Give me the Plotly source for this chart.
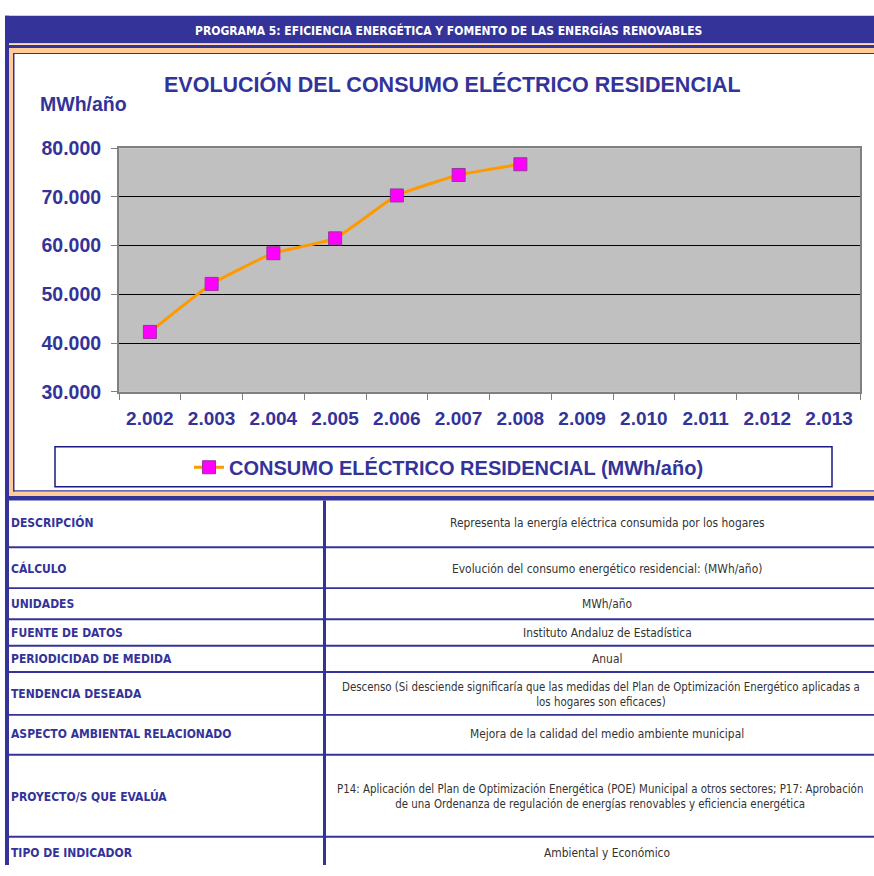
import plotly.graph_objects as go

# ---------------- data ----------------
years = ["2.002", "2.003", "2.004", "2.005", "2.006", "2.007",
         "2.008", "2.009", "2.010", "2.011", "2.012", "2.013"]
consumo = [42300, 52150, 58450, 61500, 70300, 74500, 76700]
y_ticks = [30000, 40000, 50000, 60000, 70000, 80000]

series_name = "CONSUMO ELÉCTRICO RESIDENCIAL (MWh/año)"
chart_title = "EVOLUCIÓN DEL CONSUMO ELÉCTRICO RESIDENCIAL"
unit_label = "MWh/año"
header_text = "PROGRAMA 5: EFICIENCIA ENERGÉTICA Y FOMENTO DE LAS ENERGÍAS RENOVABLES"

row_labels = ["DESCRIPCIÓN", "CÁLCULO", "UNIDADES", "FUENTE DE DATOS",
              "PERIODICIDAD DE MEDIDA", "TENDENCIA DESEADA",
              "ASPECTO AMBIENTAL RELACIONADO", "PROYECTO/S QUE EVALÚA",
              "TIPO DE INDICADOR"]
row_values = [
    "Representa la energía eléctrica consumida por los hogares",
    "Evolución del consumo energético residencial: (MWh/año)",
    "MWh/año",
    "Instituto Andaluz de Estadística",
    "Anual",
    "Descenso (Si desciende significaría que las medidas del Plan de Optimización Energético aplicadas a<br>los hogares son eficaces)",
    "Mejora de la calidad del medio ambiente municipal",
    "P14: Aplicación del Plan de Optimización Energética (POE) Municipal a otros sectores; P17: Aprobación<br>de una Ordenanza de regulación de energías renovables y eficiencia energética",
    "Ambiental y Económico",
]

# ---------------- layout helpers (pixels -> paper) ----------------
W, H = 874, 876
def PX(x):
    return x / W
def PY(y):
    return 1 - y / H

BLUE = "#333399"
PEACH = "#FFCC99"
ARIAL = "Liberation Sans, Arial, sans-serif"
NARROW = "DejaVu Sans Condensed, Liberation Sans Narrow, sans-serif"

row_bounds = [502, 550, 592, 624, 651, 678, 722, 763, 847, 880]
row_centers = [525, 572, 608, 638, 665, 701, 742, 806, 864]
value_x = [607, 607, 607, 607, 607, 601, 607, 600, 607]
value_size = [11.9, 11.9, 11.9, 11.9, 11.9, 11.4, 11.9, 11.4, 11.9]

fig = go.Figure()
fig.add_trace(go.Scatter(
    x=years[:len(consumo)], y=consumo, name=series_name,
    mode="lines+markers",
    line=dict(color="#FF9900", width=3, shape="spline", smoothing=0.4),
    marker=dict(symbol="square", size=13, color="#FF00FF",
                line=dict(color="#993399", width=1)),
))

shapes = []
def rect(x0, y0, x1, y1, fill, line_color=None, lw=0):
    shapes.append(dict(type="rect", xref="paper", yref="paper",
                       x0=PX(x0), x1=PX(x1), y0=PY(y1), y1=PY(y0),
                       fillcolor=fill, layer="above",
                       line=dict(color=line_color or fill, width=lw)))

# header bar
rect(5, 5, 874, 33, BLUE)
rect(5, 34, 874, 35, PEACH)
rect(9, 35, 874, 38, BLUE)
# chart frame (peach with thin blue inner line)
rect(9, 38, 874, 43, PEACH)
rect(9, 38, 13, 497, PEACH)
rect(9, 493, 874, 497.5, PEACH)
rect(13, 43, 14.5, 493, BLUE)
rect(13, 43, 874, 44, BLUE)
rect(13, 491.5, 874, 493, BLUE)
# outer blue left border and band under the chart
rect(5, 5, 9, 876, BLUE)
rect(5, 497.5, 874, 502, BLUE)
# legend box
rect(55, 447, 832, 488, "rgba(0,0,0,0)", "#1a1a80", 1.5)
# table grid
rect(323, 502, 326, 876, BLUE)
for yb in row_bounds[1:-1]:
    rect(5, yb - 1, 874, yb + 1, BLUE)

annotations = []
def text(x, y, s, size, color, family, bold=False, xanchor="center"):
    annotations.append(dict(xref="paper", yref="paper", x=PX(x), y=PY(y),
                            text=s, showarrow=False, xanchor=xanchor,
                            yanchor="middle", align="center",
                            font=dict(family=family, size=size, color=color,
                                      weight="bold" if bold else "normal")))

text(448, 20, header_text, 12, "white", NARROW, bold=True)
text(452, 75, chart_title, 21.5, BLUE, ARIAL, bold=True)
text(38, 95, unit_label, 19.5, BLUE, ARIAL, bold=True, xanchor="left")

for lab, val, cy, vx, vs in zip(row_labels, row_values, row_centers,
                                value_x, value_size):
    text(9, cy, lab, 12, BLUE, NARROW, bold=True, xanchor="left")
    text(vx, cy, val, vs, "#333333", NARROW)

fig.update_layout(
    width=W, height=H, margin=dict(l=0, r=0, t=0, b=0, pad=0),
    paper_bgcolor="white", plot_bgcolor="#C0C0C0",
    separators=",.",
    showlegend=True,
    legend=dict(x=PX(189), y=PY(468), xanchor="left", yanchor="middle",
                orientation="h", bgcolor="rgba(0,0,0,0)",
                font=dict(family=ARIAL, size=20, color=BLUE, weight="bold")),
    xaxis=dict(type="category", categoryorder="array", categoryarray=years,
               range=[-0.5, len(years) - 0.5],
               domain=[PX(119), PX(860)], anchor="y",
               tickson="boundaries", ticks="outside", ticklen=6,
               tickcolor="#808080", tickwidth=1,
               showline=True, linecolor="#808080", linewidth=2, mirror=True,
               showgrid=False, ticklabelstandoff=8,
               tickfont=dict(family=ARIAL, size=19, color=BLUE, weight="bold")),
    yaxis=dict(range=[y_ticks[0], y_ticks[-1]], tickvals=y_ticks,
               tickformat=",.0f",
               domain=[PY(390.7), PY(140.7)], anchor="x",
               ticks="outside", ticklen=6, tickcolor="#808080",
               showline=True, linecolor="#808080", linewidth=2, mirror=True,
               showgrid=True, gridcolor="#000000", gridwidth=1,
               zeroline=False, ticklabelstandoff=6,
               tickfont=dict(family=ARIAL, size=19.5, color=BLUE, weight="bold")),
    shapes=shapes, annotations=annotations,
)

fig.write_html(
    "out.html",
    config={"displayModeBar": False},
    post_script=(
        "document.documentElement.style.margin='0px';"
        "document.documentElement.style.overflow='hidden';"
        "document.body.style.margin='0px';"
        "document.body.style.overflow='hidden';"
    ),
)
